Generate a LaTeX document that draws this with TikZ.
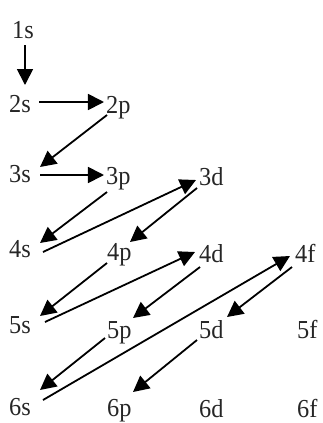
\documentclass[tikz,border=0pt]{standalone}
\usepackage{fontspec}
\setmainfont[FakeStretch=0.94]{Liberation Serif}
\usetikzlibrary{arrows.meta}
\tikzset{
  lbl/.style={anchor=base west, inner sep=0pt, font=\fontsize{26}{28}\selectfont, text=black!85},
  arr/.style={line width=1.8bp, -{Triangle[length=16bp,width=16bp]}},
}
\begin{document}
\begin{tikzpicture}[x=1bp,y=-1bp]
\useasboundingbox[fill=white] (0,0) rectangle (323,423);
\node[lbl] (n1s) at (12,38) {1s};
\node[lbl] (n2s) at (9,112) {2s};
\node[lbl] (n2p) at (106,113) {2p};
\node[lbl] (n3s) at (9,182) {3s};
\node[lbl] (n3p) at (106,184) {3p};
\node[lbl] (n3d) at (199,185) {3d};
\node[lbl] (n4s) at (9,257) {4s};
\node[lbl] (n4p) at (107,260) {4p};
\node[lbl] (n4d) at (199,262) {4d};
\node[lbl] (n4f) at (295,262) {4f};
\node[lbl] (n5s) at (9,333) {5s};
\node[lbl] (n5p) at (107,338) {5p};
\node[lbl] (n5d) at (199,338) {5d};
\node[lbl] (n5f) at (297,338) {5f};
\node[lbl] (n6s) at (9,415) {6s};
\node[lbl] (n6p) at (107,416) {6p};
\node[lbl] (n6d) at (199,417) {6d};
\node[lbl] (n6f) at (297,417) {6f};
\draw[arr] ([xshift=13bp,yshift=-7bp]n1s.base west) -- ([xshift=16bp,yshift=27bp]n2s.base west);
\draw[arr] ([xshift=30bp,yshift=10bp]n2s.base west) -- ([xshift=-2bp,yshift=11bp]n2p.base west);
\draw[arr] ([xshift=1bp,yshift=-2bp]n2p.base west) -- ([xshift=31bp,yshift=15bp]n3s.base west);
\draw[arr] ([xshift=31bp,yshift=7bp]n3s.base west) -- ([xshift=-2bp,yshift=9bp]n3p.base west);
\draw[arr] ([xshift=1bp,yshift=-8bp]n3p.base west) -- ([xshift=31bp,yshift=14bp]n4s.base west);
\draw[arr] ([xshift=34bp,yshift=5bp]n4s.base west) -- ([xshift=-3bp,yshift=5bp]n3d.base west);
\draw[arr] ([xshift=-2bp,yshift=-3bp]n3d.base west) -- ([xshift=23bp,yshift=18bp]n4p.base west);
\draw[arr] ([xshift=0bp,yshift=-3bp]n4p.base west) -- ([xshift=31bp,yshift=17bp]n5s.base west);
\draw[arr] ([xshift=36bp,yshift=11bp]n5s.base west) -- ([xshift=-4bp,yshift=10bp]n4d.base west);
\draw[arr] ([xshift=1bp,yshift=-5bp]n4d.base west) -- ([xshift=26bp,yshift=20bp]n5p.base west);
\draw[arr] ([xshift=-2bp,yshift=0bp]n5p.base west) -- ([xshift=31bp,yshift=25bp]n6s.base west);
\draw[arr] ([xshift=34bp,yshift=15bp]n6s.base west) -- ([xshift=-5bp,yshift=6bp]n4f.base west);
\draw[arr] ([xshift=-3bp,yshift=-5bp]n4f.base west) -- ([xshift=28bp,yshift=21bp]n5d.base west);
\draw[arr] ([xshift=-2bp,yshift=-2bp]n5d.base west) -- ([xshift=26bp,yshift=24bp]n6p.base west);
\end{tikzpicture}
\end{document}
